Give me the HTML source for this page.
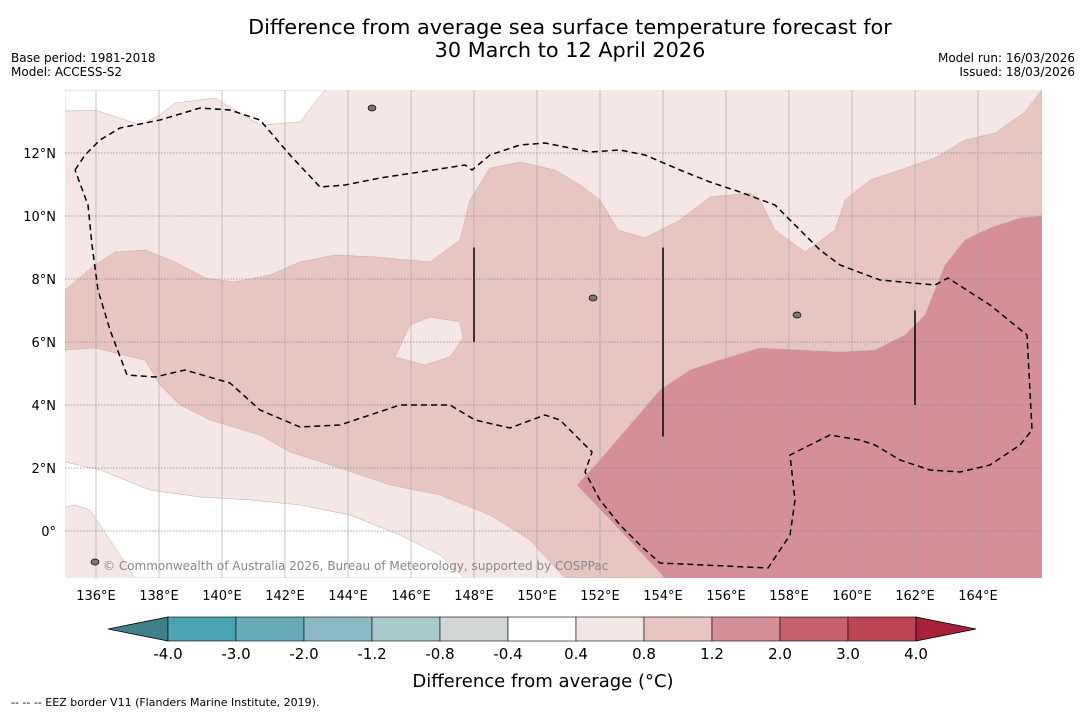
<!DOCTYPE html>
<html><head><meta charset="utf-8"><style>
body{margin:0;background:#fff;width:1085px;height:713px;overflow:hidden;font-family:"Liberation Sans","DejaVu Sans",sans-serif}
</style></head><body>
<svg id="chart" width="1085" height="713" xmlns="http://www.w3.org/2000/svg" font-family="DejaVu Sans, Liberation Sans, sans-serif">
<text x="570" y="34" font-size="20.8" text-anchor="middle">Difference from average sea surface temperature forecast for</text>
<text x="570" y="57" font-size="20.8" text-anchor="middle">30 March to 12 April 2026</text>
<text x="11" y="62" font-size="12">Base period: 1981-2018</text>
<text x="11" y="76" font-size="12">Model: ACCESS-S2</text>
<text x="1075" y="62" font-size="12" text-anchor="end">Model run: 16/03/2026</text>
<text x="1075" y="76" font-size="12" text-anchor="end">Issued: 18/03/2026</text>
<g id="map"></g>
<g id="cbar"></g>
<text x="543" y="687" font-size="18" text-anchor="middle">Difference from average (°C)</text>
<text x="11" y="706" font-size="11">--  --  -- EEZ border V11 (Flanders Marine Institute, 2019).</text>
</svg>
<script>
const lonTicks=[136,138,140,142,144,146,148,150,152,154,156,158,160,162,164];
const latTicks=[0,2,4,6,8,10,12];
const levels=[-4.0,-3.0,-2.0,-1.2,-0.8,-0.4,0.4,0.8,1.2,2.0,3.0,4.0];
const levelColors=["#4aa3b1","#67abb8","#8ab8c3","#aac9cd","#d3d6d7","#ffffff","#f4e7e6","#e7c6c2","#d58f97","#c6616d","#bd4655"];
// contour polygons in [lon,lat]
const px=(x,y)=>[135+(x-64.5)/31.5,(531-y)/31.5];
const whiteTop=[[65,90],[65,111],[95,110],[140,125],[160,115],[175,103],[215,98],[260,125],[300,122],[325,90]].map(p=>px(...p));
const whiteBottom=[[65,462],[100,470],[150,490],[200,497],[250,500],[300,505],[350,515],[400,535],[440,555],[465,578],[135,578],[110,540],[90,510],[75,505],[65,507]].map(p=>px(...p));
const midZone=[[65,290],[95,265],[115,252],[145,250],[175,262],[205,278],[235,282],[270,275],[300,262],[335,255],[375,257],[430,262],[460,240],[470,200],[490,168],[520,162],[555,170],[580,185],[600,200],[618,230],[645,238],[680,220],[710,197],[750,193],[760,200],[775,230],[805,252],[835,230],[845,200],[870,180],[900,170],[935,158],[965,140],[995,133],[1025,112],[1042,90],[1042,578],[565,578],[530,540],[490,515],[440,495],[390,485],[340,468],[290,452],[260,435],[210,420],[180,405],[160,385],[145,360],[95,348],[65,350]].map(p=>px(...p));
const lightHole=[[395,357],[410,325],[430,317],[460,322],[463,338],[450,357],[425,365]].map(p=>px(...p));
const darkZone=[[577,485],[600,460],[630,425],[660,390],[690,370],[720,360],[760,348],[800,350],[840,352],[875,350],[905,335],[925,315],[945,265],[965,240],[990,228],[1020,218],[1042,216],[1042,578],[665,578],[620,530]].map(p=>px(...p));
const eez=[[75,170],[85,155],[100,140],[120,128],[160,120],[200,108],[230,110],[260,120],[290,155],[320,187],[345,185],[380,178],[420,172],[465,165],[472,170],[490,155],[520,145],[545,143],[570,148],[590,152],[620,150],[645,155],[680,170],[710,182],[740,192],[775,205],[795,225],[820,250],[840,265],[880,280],[935,285],[948,278],[990,305],[1027,335],[1032,430],[1020,445],[990,465],[960,472],[930,470],[900,460],[875,445],[860,440],[830,435],[810,445],[790,455],[795,500],[790,535],[768,568],[660,563],[640,545],[620,525],[600,500],[585,472],[592,452],[560,420],[545,415],[510,428],[475,420],[450,405],[400,405],[370,415],[340,425],[300,427],[260,410],[230,383],[185,370],[155,377],[127,375],[110,330],[98,290],[92,245],[88,205],[75,170]].map(p=>px(...p));
const segLon=[148,154,162];const segLat0=[6,3,4];const segLat1=[9,9,7];

const NS="http://www.w3.org/2000/svg";
const X0=64.5,Y0=531,K=31.5;
const xs=l=>X0+(l-135)*K, ys=l=>Y0-l*K;
function mk(t,a,p){const e=document.createElementNS(NS,t);for(const k in a)e.setAttribute(k,a[k]);(p).appendChild(e);return e;}
const map=document.getElementById('map');
const cp=mk('clipPath',{id:'mc'},map);mk('rect',{x:65,y:90,width:977,height:488},cp);
const g=mk('g',{'clip-path':'url(#mc)'},map);
const bg=mk('rect',{x:65,y:90,width:977,height:488,fill:levelColors[6]},g);

function poly(pts,fill,name){const e=mk('polygon',{points:pts.map(p=>xs(p[0])+','+ys(p[1])).join(' '),fill:fill,stroke:'#c9a9a6','stroke-width':0.5},g);

}
poly(whiteTop,'#ffffff','contour-white-top');
poly(whiteBottom,'#ffffff','contour-white-bottom');
poly(midZone,levelColors[7],'contour-0.8-1.2');
poly(lightHole,levelColors[6],'contour-0.4-0.8-patch');
poly(darkZone,levelColors[8],'contour-1.2-2.0');
lonTicks.forEach(l=>{const x=xs(l);mk('line',{x1:x,x2:x,y1:90,y2:578,stroke:'#a0a0a0','stroke-width':0.6},g);
const t=mk('text',{x:x,y:600,'font-size':13,'text-anchor':'middle'},map);t.textContent=l+'°E';

});
latTicks.forEach(l=>{const y=ys(l);mk('line',{x1:65,x2:1042,y1:y,y2:y,stroke:'#888','stroke-width':0.7,'stroke-dasharray':'1.5,1.5'},g);
const t=mk('text',{x:56,y:y+5,'font-size':13,'text-anchor':'end'},map);t.textContent=l===0?'0°':l+'°N';

});
const ez=mk('polyline',{points:eez.map(p=>xs(p[0])+','+ys(p[1])).join(' '),fill:'none',stroke:'#000','stroke-width':1.5,'stroke-dasharray':'6,4'},g);

segLon.forEach((l,i)=>{const s=mk('line',{x1:xs(l),x2:xs(l),y1:ys(segLat1[i]),y2:ys(segLat0[i]),stroke:'#000','stroke-width':1.5},g);
});
[[372,108],[593,298],[797,315],[95,562]].forEach(p=>mk('ellipse',{cx:p[0],cy:p[1],rx:4,ry:3,fill:'#777',stroke:'#000','stroke-width':0.7},g));
const cr=mk('text',{x:103,y:570,'font-size':12,fill:'#888'},map);cr.textContent='© Commonwealth of Australia 2026, Bureau of Meteorology, supported by COSPPac';

// colorbar
const cb=document.getElementById('cbar');const cx0=168,cw=68,cy=617,ch=24;
const tl=mk('polygon',{points:`108,629 ${cx0},${cy} ${cx0},${cy+ch}`,fill:'#3f8089',stroke:'#000','stroke-width':0.8},cb);

levelColors.forEach((c,i)=>{const r=mk('rect',{x:cx0+i*cw,y:cy,width:cw,height:ch,fill:c,stroke:'#000','stroke-width':0.6},cb);
});
const xe=cx0+levelColors.length*cw;
const tr=mk('polygon',{points:`${xe},${cy} ${xe+60},629 ${xe},${cy+ch}`,fill:'#a8213b',stroke:'#000','stroke-width':0.8},cb);

levels.forEach((v,i)=>{const t=mk('text',{x:cx0+i*cw,y:659,'font-size':15,'text-anchor':'middle'},cb);t.textContent=v.toFixed(1);
});
</script>
</body></html>
